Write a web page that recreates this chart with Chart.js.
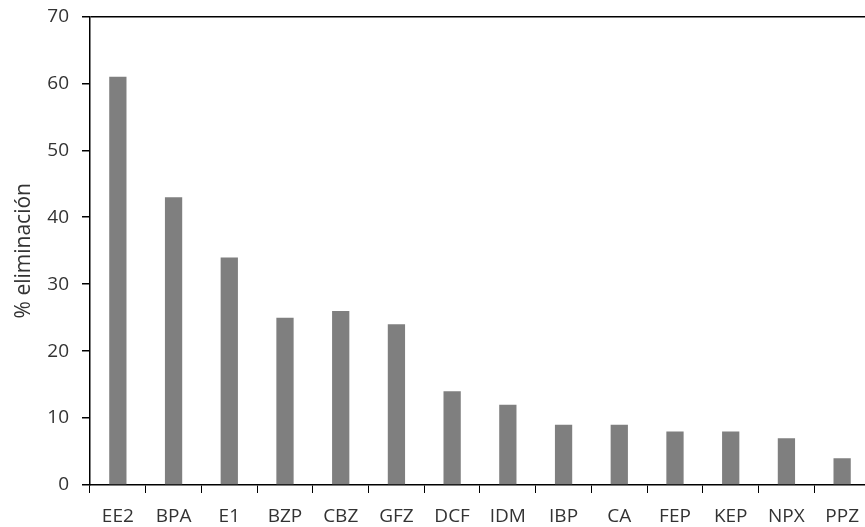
<!DOCTYPE html>
<html>
<head>
<meta charset="utf-8">
<script src="https://cdn.jsdelivr.net/npm/chart.js@4.4.1/dist/chart.umd.min.js"></script>
<style>
  html, body { margin: 0; padding: 0; background: #fff; overflow: hidden; }
  /* el lienzo sube 8px para que el borde superior quede en y=16 */
  #wrap { width: 871px; height: 535px; position: relative; top: -8px; }
</style>
</head>
<body>
<div id="wrap"><canvas id="chart"></canvas></div>
<script>
// datos
const categorias = ['EE2', 'BPA', 'E1', 'BZP', 'CBZ', 'GFZ', 'DCF', 'IDM', 'IBP', 'CA', 'FEP', 'KEP', 'NPX', 'PPZ'];
const eliminacion = [61, 43, 34, 25, 26, 24, 14, 12, 9, 9, 8, 8, 7, 4];
const yMin = 0, yMax = 70, yPaso = 10;
const tituloY = '% eliminación';

const fuente = "'Open Sans', sans-serif";
const colorTexto = '#333333';
const ctx = document.getElementById('chart').getContext('2d');
new Chart(ctx, {
    type: 'bar',
    data: {
        labels: categorias,
        datasets: [{
            data: eliminacion,
            backgroundColor: '#7f7f7f',
            borderWidth: 0,
            barPercentage: 0.31,
            categoryPercentage: 1
        }]
    },
    options: {
        responsive: true,
        maintainAspectRatio: false,
        animation: false,
        layout: { padding: 0 },
        plugins: { legend: { display: false }, tooltip: { enabled: false } },
        scales: {
            x: {
                grid: { offset: true, drawOnChartArea: false, tickLength: 8, color: '#000', tickColor: '#000' },
                border: { color: '#000', width: 1.5 },
                ticks: { color: colorTexto, font: { family: fuente, size: 19 }, padding: 12, maxRotation: 0, autoSkip: false },
                afterFit: s => { s.height = 42; }
            },
            y: {
                min: yMin, max: yMax,
                ticks: { stepSize: yPaso, color: colorTexto, font: { family: fuente, size: 19 }, padding: 13 },
                grid: {
                    tickLength: 8,
                    color: c => (c.tick && c.tick.value === yMax) ? '#000' : 'rgba(0,0,0,0)',
                    tickColor: '#000',
                    lineWidth: 1.5
                },
                border: { color: '#000', width: 1.5 },
                title: { display: true, text: tituloY, color: colorTexto, font: { family: fuente, size: 21 }, padding: 11 },
                afterFit: s => { s.width = 90; }
            }
        }
    }
});
</script>
</body>
</html>
